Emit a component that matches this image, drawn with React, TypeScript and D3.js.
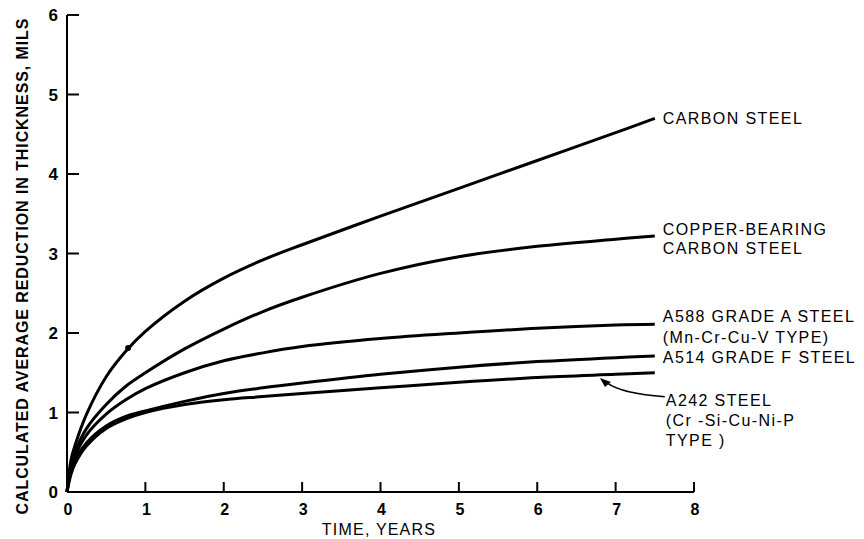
import React, { useRef, useEffect } from 'react';
import * as d3 from 'd3';

// (years, mils)
const years = [0, 0.05, 0.1, 0.25, 0.5, 0.75, 1, 1.5, 2, 2.5, 3, 4, 5, 6, 7, 7.5];
const carbonSteel = [0, 0.4, 0.58, 0.98, 1.45, 1.77, 2.02, 2.4, 2.69, 2.92, 3.11, 3.47, 3.82, 4.17, 4.52, 4.7];
const copperBearing = [0, 0.34, 0.5, 0.8, 1.1, 1.33, 1.5, 1.8, 2.05, 2.27, 2.45, 2.75, 2.96, 3.09, 3.18, 3.22];
const a588 = [0, 0.3, 0.45, 0.72, 0.98, 1.16, 1.3, 1.5, 1.65, 1.75, 1.83, 1.93, 2.0, 2.06, 2.1, 2.11];
const a514 = [0, 0.26, 0.4, 0.62, 0.83, 0.95, 1.02, 1.14, 1.24, 1.31, 1.37, 1.48, 1.57, 1.64, 1.69, 1.71];
const a242 = [0, 0.22, 0.35, 0.58, 0.8, 0.92, 1.0, 1.1, 1.16, 1.2, 1.24, 1.31, 1.38, 1.44, 1.48, 1.5];

const seriesNames = ['CARBON STEEL', 'COPPER-BEARING', 'A588', 'A514', 'A242'];
const seriesValues = [carbonSteel, copperBearing, a588, a514, a242];

const curveLabels = [
  ['CARBON STEEL'],
  ['COPPER-BEARING', 'CARBON STEEL'],
  ['A588 GRADE A STEEL', '(Mn-Cr-Cu-V TYPE)'],
  ['A514 GRADE F STEEL'],
];
const a242Label = ['A242 STEEL', '(Cr -Si-Cu-Ni-P', 'TYPE )'];
const markerPoint = [0.78, 1.81];

const xTicks = [0, 1, 2, 3, 4, 5, 6, 7, 8];
const yTicks = [0, 1, 2, 3, 4, 5, 6];

const width = 864;
const height = 539;
const marginLeft = 67;
const marginRight = 170;
const marginTop = 15;
const marginBottom = 47;

export default function App() {
  const svgRef = useRef<SVGSVGElement>(null);

  useEffect(() => {
    const svg = d3.select(svgRef.current);
    svg.selectAll('*').remove();

    const x = d3.scaleLinear().domain([0, 8]).range([marginLeft, width - marginRight]);
    const y = d3.scaleLinear().domain([0, 6]).range([height - marginBottom, marginTop]);
    const font = '"Liberation Sans", Arial, sans-serif';

    // axes drawn by hand so ticks point inward
    const axes = svg.append('g').attr('stroke', '#000').attr('stroke-width', 2).attr('fill', 'none');
    axes.append('line')
      .attr('x1', x(0)).attr('x2', x(0)).attr('y1', y(0)).attr('y2', y(6));
    axes.append('line')
      .attr('x1', x(0)).attr('x2', x(8)).attr('y1', y(0)).attr('y2', y(0));
    axes.selectAll('.ytick').data(yTicks.filter(d => d > 0)).join('line')
      .attr('x1', x(0)).attr('x2', x(0) + 12)
      .attr('y1', d => y(d)).attr('y2', d => y(d));
    axes.selectAll('.xtick').data(xTicks.filter(d => d > 0)).join('line')
      .attr('x1', d => x(d)).attr('x2', d => x(d))
      .attr('y1', y(0)).attr('y2', y(0) - 10);

    svg.append('g').selectAll('text').data(yTicks).join('text')
      .attr('x', x(0) - 9).attr('y', d => y(d) + 6)
      .attr('text-anchor', 'end')
      .attr('font-family', font).attr('font-weight', 'bold').attr('font-size', 17)
      .text(d => d);

    svg.append('g').selectAll('text').data(xTicks).join('text')
      .attr('x', d => x(d) + 1).attr('y', y(0) + 23)
      .attr('text-anchor', 'middle')
      .attr('font-family', font).attr('font-weight', 'bold').attr('font-size', 16)
      .text(d => d);

    svg.append('text')
      .attr('x', 379).attr('y', 535)
      .attr('text-anchor', 'middle')
      .attr('font-family', font).attr('font-size', 16)
      .attr('letter-spacing', 1.2)
      .text('TIME, YEARS');

    svg.append('text')
      .attr('transform', `translate(28,${(y(0) + y(6)) / 2 + 13}) rotate(-90)`)
      .attr('text-anchor', 'middle')
      .attr('font-family', font).attr('font-weight', 'bold').attr('font-size', 16)
      .attr('textLength', 496).attr('lengthAdjust', 'spacing')
      .text('CALCULATED AVERAGE REDUCTION IN THICKNESS, MILS');

    const line = d3.line<number>()
      .x((_, i) => x(years[i]))
      .y(d => y(d))
      .curve(d3.curveCatmullRom.alpha(0.5));

    svg.append('g').selectAll('path').data(seriesValues).join('path')
      .attr('class', (_, i) => `series-${seriesNames[i]}`)
      .attr('fill', 'none')
      .attr('stroke', '#000')
      .attr('stroke-width', 3)
      .attr('stroke-linejoin', 'round')
      .attr('d', d => line(d));

    svg.append('circle')
      .attr('cx', x(markerPoint[0])).attr('cy', y(markerPoint[1]))
      .attr('r', 3).attr('fill', '#000');

    // labels at right end of curves; two-line labels sit a little above the line end
    const last = years.length - 1;
    const labelX = x(years[last]) + 8;
    const labelShift = [0, -7, -8, 1];
    const lineGap = [20, 19, 21, 20];
    curveLabels.forEach((lines, i) => {
      const yEnd = y(seriesValues[i][last]) + labelShift[i];
      lines.forEach((txt, j) => {
        svg.append('text')
          .attr('x', labelX).attr('y', yEnd + 6 + j * lineGap[i])
          .attr('font-family', font).attr('font-size', 16)
          .attr('letter-spacing', 1.4)
          .text(txt);
      });
    });

    // A242 label with arrow
    const a242End = y(a242[last]);
    const lx = labelX + 3;
    const ly = a242End + 27;
    a242Label.forEach((txt, j) => {
      svg.append('text')
        .attr('x', lx).attr('y', ly + 6 + j * 20)
        .attr('font-family', font).attr('font-size', 16)
        .attr('letter-spacing', 1.4)
        .text(txt);
    });
    const tipX = x(6.8);
    const tipY = y(d3.scaleLinear().domain([6, 7]).range([a242[13], a242[14]])(6.8)) + 3;
    svg.append('path')
      .attr('d', `M${lx - 1},${ly - 3} Q${tipX + 22},${ly - 6} ${tipX + 7},${tipY + 5}`)
      .attr('fill', 'none').attr('stroke', '#000').attr('stroke-width', 1.5);
    svg.append('path')
      .attr('d', `M${tipX},${tipY} L${tipX + 11},${tipY + 4} L${tipX + 5},${tipY + 9} Z`)
      .attr('fill', '#000');
  }, []);

  return (
    <svg
      ref={svgRef}
      width={width}
      height={height}
      style={{ position: 'absolute', left: 0, top: 0, background: '#fff' }}
    />
  );
}
